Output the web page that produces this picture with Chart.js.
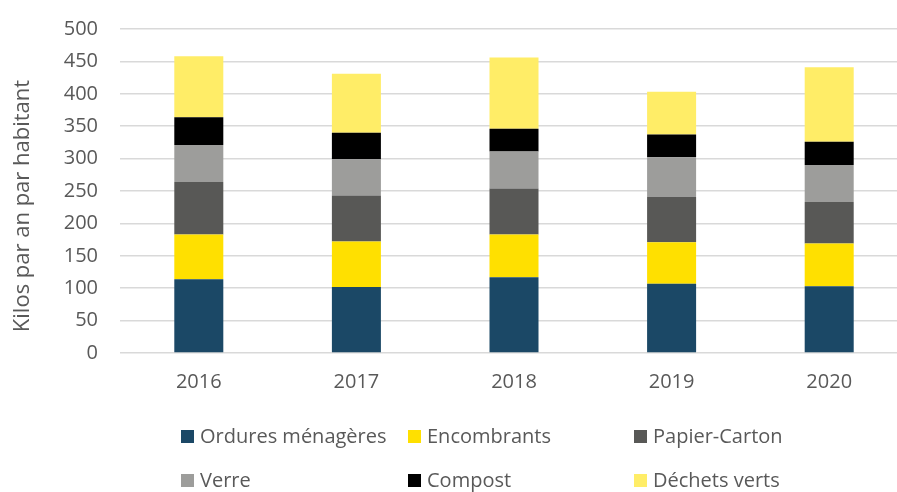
<!DOCTYPE html>
<html lang="fr">
<head>
    <meta charset="UTF-8">
    <title>Kilos par an par habitant</title>
    <script src="https://cdn.jsdelivr.net/npm/chart.js"></script>
    <style>
        body {
            margin: 0;
            padding: 0;
            background: #ffffff;
            overflow: hidden;
            font-family: 'Open Sans', sans-serif;
        }

        .wrap {
            position: relative;
            width: 910px;
            height: 492px;
        }

        .legend-item {
            position: absolute;
            font-size: 20px;
            color: #595959;
            white-space: nowrap;
            line-height: 1;
        }

        .legend-item span.box {
            display: inline-block;
            width: 13px;
            height: 13px;
            margin-right: 6px;
        }
    </style>
</head>
<body>
    <div class="wrap">
        <canvas id="barChart"></canvas>
        <div id="legend"></div>
    </div>

    <script>
        // Données
        const years = ['2016', '2017', '2018', '2019', '2020'];
        const seriesNames = ['Ordures ménagères', 'Encombrants', 'Papier-Carton', 'Verre', 'Compost', 'Déchets verts'];
        const ordures = [114, 102, 117, 107, 103];
        const encombrants = [69, 70, 66, 64, 66];
        const papierCarton = [81, 71, 71, 70, 64];
        const verre = [57, 56, 57, 61, 57];
        const compost = [43, 41, 35, 35, 36];
        const dechetsVerts = [94, 91, 110, 66, 115];
        const yTicks = [0, 50, 100, 150, 200, 250, 300, 350, 400, 450, 500];
        const yTitle = 'Kilos par an par habitant';
        const colors = ['#1b4866', '#ffe000', '#585856', '#9d9d9b', '#000000', '#ffed67'];

        const values = [ordures, encombrants, papierCarton, verre, compost, dechetsVerts];
        const textColor = '#595959';
        const font = { family: "'Open Sans', sans-serif", size: 20 };

        const datasets = seriesNames.map((name, i) => ({
            label: name,
            data: values[i],
            backgroundColor: colors[i],
            borderWidth: 0,
            categoryPercentage: 1,
            barPercentage: 0.311
        }));

        // Titre de l'axe Y (centré comme dans Excel)
        const yTitlePlugin = {
            id: 'yTitle',
            afterDraw(chart) {
                const ctx = chart.ctx;
                ctx.save();
                ctx.translate(23, 206);
                ctx.rotate(-Math.PI / 2);
                ctx.font = "22px 'Open Sans', sans-serif";
                ctx.fillStyle = textColor;
                ctx.textAlign = 'center';
                ctx.textBaseline = 'middle';
                ctx.fillText(yTitle, 0, 0);
                ctx.restore();
            }
        };

        new Chart(document.getElementById('barChart').getContext('2d'), {
            type: 'bar',
            data: { labels: years, datasets: datasets },
            plugins: [yTitlePlugin],
            options: {
                responsive: true,
                maintainAspectRatio: false,
                animation: false,
                layout: { padding: { top: 29, right: 2, bottom: 0, left: 0 } },
                plugins: {
                    legend: { display: false },
                    tooltip: { enabled: false }
                },
                scales: {
                    x: {
                        stacked: true,
                        grid: { display: false },
                        border: { display: false },
                        ticks: { color: textColor, font: font, padding: 9 },
                        afterFit: (scale) => { scale.height = 139; }
                    },
                    y: {
                        stacked: true,
                        min: 0,
                        max: 500,
                        afterBuildTicks: (scale) => { scale.ticks = yTicks.map(v => ({ value: v })); },
                        grid: { color: '#d9d9d9', lineWidth: 1.5, drawTicks: false },
                        border: { display: false },
                        ticks: { color: textColor, font: font, padding: 22 },
                        afterFit: (scale) => {
                            scale.width = 120;
                            scale.paddingTop = 0;
                            scale.paddingBottom = 0;
                        }
                    }
                }
            }
        });

        // Légende (3 colonnes, 2 lignes)
        const legend = document.getElementById('legend');
        const colLeft = [181, 408, 634];
        const rowTop = [426, 470];
        seriesNames.forEach((name, i) => {
            const item = document.createElement('div');
            item.className = 'legend-item';
            item.style.left = colLeft[i % 3] + 'px';
            item.style.top = rowTop[Math.floor(i / 3)] + 'px';
            item.innerHTML = '<span class="box" style="background:' + colors[i] + '"></span>' + name;
            legend.appendChild(item);
        });
    </script>
</body>
</html>
